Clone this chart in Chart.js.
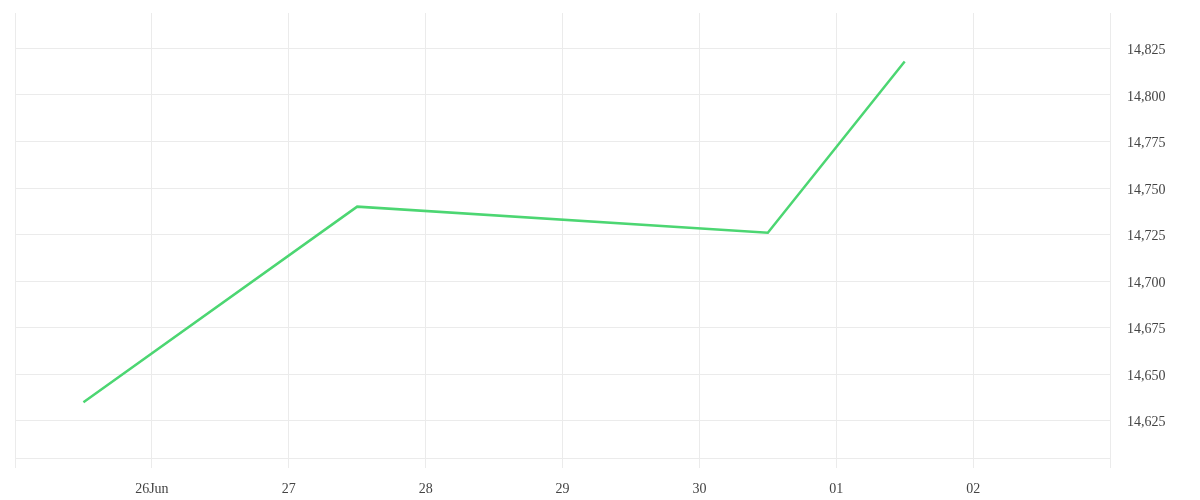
<!DOCTYPE html>
<html>
<head>
<meta charset="utf-8">
<script src="https://cdn.jsdelivr.net/npm/chart.js@4.4.0/dist/chart.umd.min.js"></script>
<style>
    html, body { margin: 0; padding: 0; background: #ffffff; }
    #wrap { width: 1200px; height: 500px; }
</style>
</head>
<body>
<div id="wrap"><canvas id="priceChart"></canvas></div>
<script>
// data
const baseDate = '2024-06-26T00:00:00';
const pointDates = ['2024-06-25T12:00:00', '2024-06-27T12:00:00', '2024-06-30T12:00:00', '2024-07-01T12:00:00'];
const pointValues = [14635, 14740, 14726, 14818];
const tickLabels = ['26Jun', '27', '28', '29', '30', '01', '02'];

const DAY = 24 * 3600 * 1000;
function dayOffset(d) {
    return (new Date(d) - new Date(baseDate)) / DAY;
}

const gridColor = '#ebebeb';
const textColor = '#444444';
const fontSpec = { family: '"Liberation Serif", serif', size: 14 };

const ctx = document.getElementById('priceChart').getContext('2d');
new Chart(ctx, {
    type: 'line',
    data: {
        datasets: [{
            data: pointDates.map((d, i) => ({ x: dayOffset(d), y: pointValues[i] })),
            borderColor: '#4cd672',
            borderWidth: 2.5,
            pointRadius: 0,
            tension: 0,
            fill: false
        }]
    },
    options: {
        responsive: true,
        maintainAspectRatio: false,
        animation: false,
        layout: {
            padding: { left: 15, top: 13, right: 0, bottom: 0 }
        },
        plugins: {
            legend: { display: false },
            tooltip: { enabled: false }
        },
        scales: {
            x: {
                type: 'linear',
                min: -1,
                max: 7,
                grid: {
                    color: gridColor,
                    tickLength: 10
                },
                border: { color: gridColor },
                ticks: {
                    stepSize: 1,
                    autoSkip: false,
                    maxRotation: 0,
                    padding: 13,
                    color: textColor,
                    font: fontSpec,
                    callback: function (value) {
                        return tickLabels[value] !== undefined ? tickLabels[value] : '';
                    }
                },
                afterFit: function (axis) {
                    axis.height = 42;
                    axis.paddingLeft = 0;
                    axis.paddingRight = 0;
                }
            },
            y: {
                position: 'right',
                min: 14605,
                max: 14844,
                grid: {
                    color: gridColor,
                    drawTicks: false
                },
                border: { color: gridColor },
                ticks: {
                    stepSize: 25,
                    padding: 17,
                    labelOffset: 2,
                    color: textColor,
                    font: fontSpec,
                    callback: function (value) {
                        return value.toLocaleString('en-US');
                    }
                },
                afterBuildTicks: function (axis) {
                    axis.ticks = axis.ticks.filter(t => t.value % 25 === 0);
                },
                afterFit: function (axis) {
                    axis.width = 90;
                    axis.paddingTop = 0;
                    axis.paddingBottom = 0;
                }
            }
        }
    }
});
</script>
</body>
</html>
